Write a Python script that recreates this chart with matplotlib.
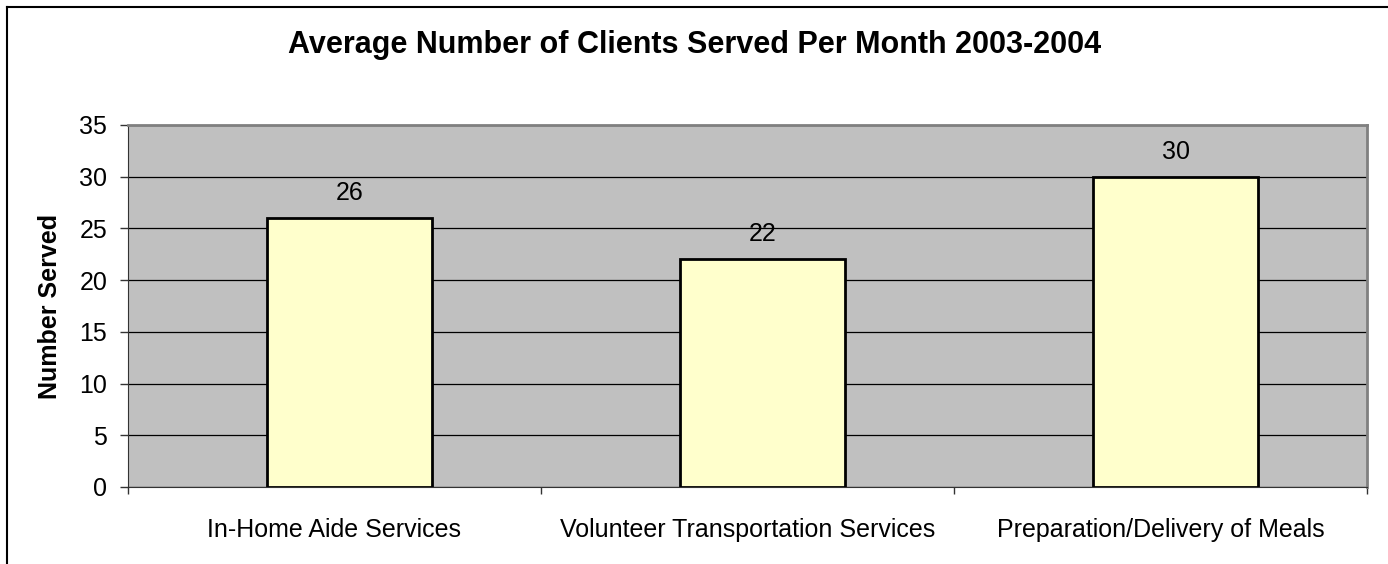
import matplotlib.pyplot as plt
from matplotlib.lines import Line2D
import numpy as np

plt.rcParams['font.family'] = ['Liberation Sans', 'DejaVu Sans']

categories = ['In-Home Aide Services', 'Volunteer Transportation Services',
              'Preparation/Delivery of Meals']
clients = [26, 22, 30]

fig = plt.figure(figsize=(13.88, 5.64), dpi=100)
W, H = 1388, 564
ax = fig.add_axes([128 / W, 1 - 487 / H, (1367 - 128) / W, (487 - 125) / H])

x = np.arange(len(categories))
offset = 0.037
bars = ax.bar(x + offset, clients, width=0.4, color='#ffffcc',
              edgecolor='black', linewidth=2, zorder=3)
for b, v in zip(bars, clients):
    ax.annotate(str(v), (b.get_x() + b.get_width() / 2, v),
                xytext=(0, 13), textcoords='offset pixels',
                ha='center', va='bottom', fontsize=18, zorder=4)

ax.set_facecolor('#c0c0c0')
ax.set_xlim(-0.5, 2.5)
ax.set_ylim(0, 35)
ax.set_yticks(range(0, 36, 5))
ax.yaxis.grid(True, color='black', linewidth=0.9, zorder=1)
ax.set_axisbelow(True)

ax.set_xticks([-0.5, 0.5, 1.5, 2.5])
ax.set_xticklabels([])
ax.set_xticks(x, minor=True)
ax.set_xticklabels(categories, minor=True, fontsize=18)
ax.tick_params(axis='x', which='minor', length=0, pad=22)
ax.tick_params(axis='x', which='major', length=5, width=1, color='#333333')
ax.tick_params(axis='y', length=6, width=1, color='#333333', labelsize=18, pad=9)

for s in ['top', 'right']:
    ax.spines[s].set_color('#808080')
    ax.spines[s].set_linewidth(2)
ax.spines['left'].set_color('#333333')
ax.spines['bottom'].set_color('#333333')

fig.text(50 / W, 1 - 306 / H, 'Number Served', rotation=90, ha='center',
         va='center', fontsize=18, fontweight='bold')
fig.text(695 / W, 1 - 45 / H,
         'Average Number of Clients Served Per Month 2003-2004',
         ha='center', va='center', fontsize=22, fontweight='bold')

# outer chart frame (left and top edges only visible)
fig.add_artist(Line2D([7 / W, 7 / W], [0, 1 - 7 / H], color='black', lw=1.5))
fig.add_artist(Line2D([7 / W, 1], [1 - 7 / H, 1 - 7 / H], color='black', lw=1.5))

fig.savefig('out.png', dpi=100)
